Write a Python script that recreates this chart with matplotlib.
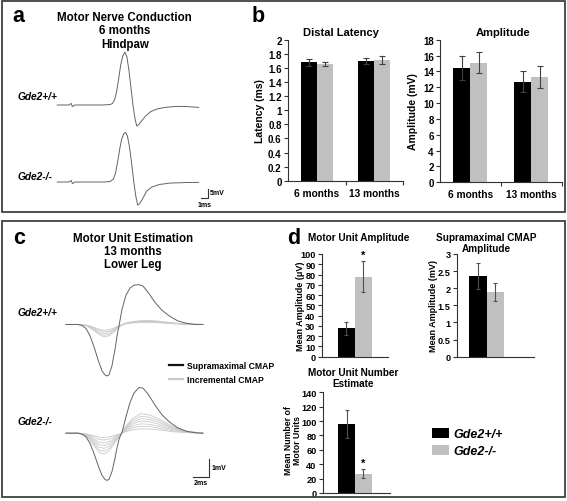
import numpy as np
import matplotlib
matplotlib.use("Agg")
import matplotlib.pyplot as plt
from matplotlib.patches import Rectangle

plt.rcParams['font.family'] = ['Liberation Sans', 'DejaVu Sans']
plt.rcParams['font.weight'] = 'bold'
plt.rcParams['axes.labelweight'] = 'bold'

W, H = 567, 502

# ---------------- data ----------------
groups = ['Gde2+/+', 'Gde2-/-']
ages = ['6 months', '13 months']

# panel b
latency_wt = [1.68, 1.70]
latency_ko = [1.66, 1.71]
latency_wt_err = [0.05, 0.04]
latency_ko_err = [0.03, 0.06]
amp_wt = [14.4, 12.7]
amp_ko = [15.1, 13.3]
amp_wt_err = [1.5, 1.3]
amp_ko_err = [1.3, 1.4]

# panel d
mua = [27.5, 78]
mua_err = [6, 15]
cmap_amp = [2.36, 1.89]
cmap_amp_err = [0.38, 0.25]
mune = [96, 27]
mune_err = [19, 6]

# panel a traces (ms, mV)
a_t_wt = [0, 1.64, 1.87, 2.01, 2.16, 2.31, 2.54, 6.42, 7.61, 7.91, 8.21, 8.51, 8.81,
          9.10, 9.40, 9.70, 10.0, 10.3, 10.6, 10.9, 11.19, 11.42, 11.64, 12.09, 12.69,
          13.43, 14.33, 15.37, 16.87, 18.36, 20.30]
a_mv_wt = [0, 0, 0.56, 0.83, -0.83, -0.56, 0, 0, 0.28, 0.83, 2.78, 7.2, 14.4,
           22.2, 27.2, 29.4, 26.7, 18.9, 8.9, -1.1, -8.3, -11.7, -11.1, -8.9, -6.1,
           -3.6, -2.2, -1.4, -0.8, -0.8, -1.3]
a_t_ko = [0, 1.64, 1.87, 2.01, 2.16, 2.31, 2.54, 6.72, 7.61, 8.06, 8.36, 8.66, 8.96,
          9.25, 9.55, 9.81, 10.07, 10.37, 10.67, 10.97, 11.27, 11.54, 11.79, 12.24, 12.84,
          13.58, 14.63, 16.12, 18.36, 20.30]
a_mv_ko = [0, 0, 0.56, 0.83, -0.83, -0.56, 0, 0, 0.28, 1.67, 5.0, 11.1, 18.3,
           23.9, 26.9, 27.6, 25.6, 19.4, 10.6, 0.56, -7.8, -12.8, -12.2, -9.4, -5.0,
           -2.8, -1.4, -0.6, -0.3, -0.2]

# panel c traces (ms, mV)
c_t = [0, 1.45, 1.93, 2.41, 2.89, 3.37, 3.86, 4.34, 4.70, 4.94, 5.18, 5.54, 5.90, 6.14,
       6.42, 6.75, 7.23, 7.71, 8.19, 8.80, 9.28, 9.88, 10.72, 11.57, 12.53, 13.49, 14.58,
       15.54, 16.5]
c_supra_wt = [0, 0, -0.06, -0.23, -0.64, -1.27, -2.02, -2.66, -2.89, -2.95, -2.89, -2.37,
              -1.45, -0.69, 0, 0.87, 1.68, 2.08, 2.25, 2.28, 2.20, 1.85, 1.27, 0.81, 0.46,
              0.20, 0.06, 0, 0]
c_supra_ko = [0, 0, -0.05, -0.21, -0.58, -1.15, -1.83, -2.42, -2.65, -2.70, -2.65, -2.20,
              -1.45, -0.85, -0.30, 0.05, 0.95, 1.75, 2.30, 2.62, 2.58, 2.25, 1.62, 1.05, 0.62,
              0.30, 0.10, 0.03, 0]
inc_t = [0, 1.5, 2.5, 3.3, 4.0, 4.6, 5.2, 5.8, 6.5, 7.2, 8.0, 9.0, 10.0, 11.0, 12.0, 13.0, 14.5, 16.5]
inc_wt = [
    [0, 0, -0.04, -0.15, -0.27, -0.33, -0.30, -0.20, -0.05, 0.04, 0.08, 0.11, 0.12, 0.10, 0.07, 0.04, 0.01, 0],
    [0, 0, -0.05, -0.19, -0.34, -0.42, -0.39, -0.25, -0.06, 0.05, 0.11, 0.14, 0.15, 0.13, 0.09, 0.05, 0.02, 0],
    [0, 0, -0.06, -0.23, -0.43, -0.52, -0.48, -0.31, -0.08, 0.06, 0.12, 0.16, 0.17, 0.14, 0.10, 0.06, 0.02, 0],
    [0, 0, -0.07, -0.28, -0.51, -0.62, -0.57, -0.37, -0.09, 0.07, 0.14, 0.19, 0.20, 0.17, 0.12, 0.07, 0.02, 0],
    [0, 0, -0.09, -0.32, -0.58, -0.71, -0.65, -0.43, -0.11, 0.08, 0.16, 0.22, 0.23, 0.20, 0.14, 0.08, 0.03, 0],
]
inc_ko = [
    [0, 0, -0.04, -0.14, -0.23, -0.25, -0.21, -0.13, -0.03, 0.09, 0.19, 0.25, 0.24, 0.20, 0.14, 0.08, 0.03, 0],
    [0, 0, -0.06, -0.21, -0.36, -0.39, -0.33, -0.20, -0.05, 0.14, 0.30, 0.40, 0.38, 0.31, 0.22, 0.13, 0.05, 0],
    [0, 0, -0.08, -0.31, -0.52, -0.56, -0.48, -0.28, -0.07, 0.19, 0.41, 0.54, 0.51, 0.42, 0.30, 0.18, 0.06, 0],
    [0, 0, -0.11, -0.39, -0.65, -0.71, -0.60, -0.36, -0.09, 0.24, 0.52, 0.69, 0.66, 0.54, 0.38, 0.23, 0.08, 0],
    [0, 0, -0.13, -0.48, -0.80, -0.87, -0.74, -0.44, -0.10, 0.29, 0.62, 0.83, 0.79, 0.65, 0.46, 0.27, 0.10, 0],
    [0, 0, -0.16, -0.57, -0.96, -1.04, -0.88, -0.52, -0.12, 0.34, 0.73, 0.97, 0.92, 0.76, 0.53, 0.32, 0.12, 0],
    [0, 0, -0.18, -0.66, -1.10, -1.20, -1.02, -0.60, -0.14, 0.39, 0.84, 1.12, 1.06, 0.87, 0.62, 0.37, 0.13, 0],
]

BLACK = '#000000'
GRAY = '#c0c0c0'
TRACE = '#636363'
INC = '#cacaca'
ERR = '#404040'

fig = plt.figure(figsize=(W / 100, H / 100), dpi=100)


def px_axes(x0, y0, x1, y1):
    return fig.add_axes([x0 / W, 1 - y1 / H, (x1 - x0) / W, (y1 - y0) / H])


def ftext(x, y, s, **kw):
    kw.setdefault('ha', 'center')
    kw.setdefault('va', 'center')
    fig.text(x / W, 1 - y / H, s, **kw)


# panel frames
for (x0, y0, x1, y1) in [(2, 2, 565, 213), (2, 222, 565, 498)]:
    fig.patches.append(Rectangle((x0 / W, 1 - y1 / H), (x1 - x0) / W, (y1 - y0) / H,
                                 transform=fig.transFigure, fill=False,
                                 ec='#404040', lw=1.3))

# panel letters
for s, x, y in [('a', 12, 16), ('b', 252, 16), ('c', 13, 238), ('d', 287, 238)]:
    ftext(x, y, s, ha='left', fontsize=15.5)

# ---------------- panel a ----------------
ax = px_axes(50, 45, 225, 212)
ax.set_xlim(-1.045, 24.08)
ax.set_ylim(-58.9, 33.9)
ax.axis('off')
ko_off_a = -42.8
ax.plot(a_t_wt, a_mv_wt, color=TRACE, lw=0.7)
ax.plot(a_t_ko, np.array(a_mv_ko) + ko_off_a, color=TRACE, lw=0.7)
# scale bar 1 ms / 5 mV
ax.plot([20.6, 21.6, 21.6], [-51.7, -51.7, -46.7], color='#333333', lw=0.8)
ax.text(21.9, -48.8, '5mV', fontsize=5, ha='left', va='center')
ax.text(21.2, -53.2, '1ms', fontsize=5, ha='center', va='top')

ftext(124.7, 18, 'Motor Nerve Conduction', fontsize=8.3)
ftext(124.7, 31.5, '6 months', fontsize=8.3)
ftext(124.7, 45, 'Hindpaw', fontsize=8.3)
ftext(18, 97, groups[0], ha='left', style='italic', fontsize=7.3)
ftext(18, 177, groups[1], ha='left', style='italic', fontsize=7.3)


# ---------------- bar helpers ----------------
def bar_axes(rect, ymax, step, size=7):
    a = px_axes(*rect)
    a.patch.set_alpha(0)
    a.set_ylim(0, ymax)
    ticks = np.arange(0, ymax + step / 2, step)
    a.set_yticks(ticks)
    a.set_yticklabels([f'{t:g}' for t in ticks])
    for s in ['top', 'right']:
        a.spines[s].set_visible(False)
    for s in ['left', 'bottom']:
        a.spines[s].set_color('#333333')
        a.spines[s].set_linewidth(0.8)
    a.tick_params(axis='y', length=3, width=0.8, pad=1.5, labelsize=size, color='#333333')
    return a


def grouped(a, wt, ko, wt_err, ko_err, w=0.28):
    x = np.arange(len(wt))
    a.bar(x - w / 2, wt, width=w, color=BLACK)
    a.bar(x + w / 2, ko, width=w, color=GRAY)
    a.errorbar(x - w / 2, wt, yerr=wt_err, fmt='none', ecolor=ERR, elinewidth=0.8,
               capsize=2, capthick=0.8)
    a.errorbar(x + w / 2, ko, yerr=ko_err, fmt='none', ecolor=ERR, elinewidth=0.8,
               capsize=2, capthick=0.8)
    a.set_xlim(-0.5, len(wt) - 0.5)
    a.set_xticks(np.arange(len(wt)) + 0.5)
    a.set_xticklabels([])
    a.set_xticks(x, minor=True)
    a.set_xticklabels(ages, minor=True)
    a.tick_params(axis='x', which='major', length=3, width=0.8, color='#333333')
    a.tick_params(axis='x', which='minor', length=0, pad=5, labelsize=7.3)


# ---------------- panel b ----------------
ax = bar_axes((288, 40.7, 403, 181.7), 2, 0.2)
grouped(ax, latency_wt, latency_ko, latency_wt_err, latency_ko_err)
ax.set_ylabel('Latency (ms)', fontsize=7.5)
ax.yaxis.set_label_coords(-0.196, 0.5)
ftext(340.8, 33, 'Distal Latency', fontsize=8)

ax = bar_axes((440, 40.7, 561.7, 183.3), 18, 2)
grouped(ax, amp_wt, amp_ko, amp_wt_err, amp_ko_err)
ax.set_ylabel('Amplitude (mV)', fontsize=7.5)
ax.yaxis.set_label_coords(-0.177, 0.5)
ftext(503, 33, 'Amplitude', fontsize=8)

# ---------------- panel c ----------------
ax = px_axes(60, 275, 225, 492)
ax.set_xlim(-0.72, 19.16)
ax.set_ylim(-9.54, 2.89)
ax.axis('off')
ko_off_c = -6.23
for tr in inc_wt:
    ax.plot(inc_t, tr, color=INC, lw=0.6)
for tr in inc_ko:
    ax.plot(inc_t, np.array(tr) + ko_off_c, color=INC, lw=0.6)
ax.plot(c_t, c_supra_wt, color=TRACE, lw=0.7)
ax.plot(c_t, np.array(c_supra_ko) + ko_off_c, color=TRACE, lw=0.7)
l_sup = plt.Line2D([], [], color='#111111', lw=1.6)
l_inc = plt.Line2D([], [], color=INC, lw=1.6)
fig.legend([l_sup, l_inc], ['Supramaximal CMAP', 'Incremental CMAP'],
           loc='center left', bbox_to_anchor=(169 / W, 1 - 373.5 / H), frameon=False,
           fontsize=6.2, handlelength=1.6, handletextpad=0.45, labelspacing=0.5,
           borderpad=0, borderaxespad=0)
# scale bar 2 ms / 1 mV
ax.plot([15.27, 17.27, 17.27], [-8.71, -8.71, -7.71], color='#333333', lw=0.8)
ax.text(17.6, -8.2, '1mV', fontsize=5, ha='left', va='center')
ax.text(16.27, -8.85, '2ms', fontsize=5, ha='center', va='top')

ftext(133, 239, 'Motor Unit Estimation', fontsize=8.3)
ftext(133, 252.3, '13 months', fontsize=8.3)
ftext(133, 265, 'Lower Leg', fontsize=8.3)
ftext(18, 313, groups[0], ha='left', style='italic', fontsize=7.3)
ftext(18, 422, groups[1], ha='left', style='italic', fontsize=7.3)


# ---------------- panel d ----------------
def pair(a, vals, errs, w, lim):
    x = np.array([-w / 2, w / 2])
    bars = a.bar(x, vals, width=w, color=[BLACK, GRAY])
    a.errorbar(x, vals, yerr=errs, fmt='none', ecolor='#505050', elinewidth=0.8,
               capsize=1.5, capthick=0.8)
    a.set_xlim(*lim)
    a.set_xticks([])
    return bars


ax = bar_axes((321.7, 255, 388, 357.7), 100, 10, size=6.6)
bars = pair(ax, mua, mua_err, 0.26, (-0.5, 0.5))
ax.text(0.13, 94.5, '*', ha='center', va='bottom', fontsize=8)
ax.set_ylabel('Mean Amplitude (μV)', fontsize=6.5)
ax.yaxis.set_label_coords(-0.25, 0.5)
ftext(358.3, 238.3, 'Motor Unit Amplitude', fontsize=7.2)

ax = bar_axes((456.7, 255, 534.3, 357.7), 3, 0.5, size=6.6)
pair(ax, cmap_amp, cmap_amp_err, 0.225, (-0.387, 0.613))
ax.set_ylabel('Mean Amplitude (mV)', fontsize=6.5)
ax.yaxis.set_label_coords(-0.246, 0.5)
ftext(486.7, 237.7, 'Supramaximal CMAP', fontsize=7.2)
ftext(486.7, 249, 'Amplitude', fontsize=7.2)

ax = bar_axes((322.7, 393.3, 390, 494), 140, 20, size=6.6)
pair(ax, mune, mune_err, 0.25, (-0.48, 0.52))
ax.text(0.125, 35, '*', ha='center', va='bottom', fontsize=8)
ax.set_ylabel('Mean Number of\nMotor Units', fontsize=6.3, linespacing=1.0)
ax.yaxis.set_label_coords(-0.305, 0.53)
ftext(353.3, 373.3, 'Motor Unit Number', fontsize=7.2)
ftext(353.3, 384.3, 'Estimate', fontsize=7.2)

leg = fig.legend(bars, groups, loc='upper left', bbox_to_anchor=(432 / W, 1 - 429 / H),
                 frameon=False, prop={'size': 9, 'style': 'italic', 'weight': 'bold'},
                 handlelength=1.33, handleheight=0.8, handletextpad=0.35,
                 labelspacing=0.4, borderpad=0, borderaxespad=0)

fig.savefig('out.png', dpi=100)
